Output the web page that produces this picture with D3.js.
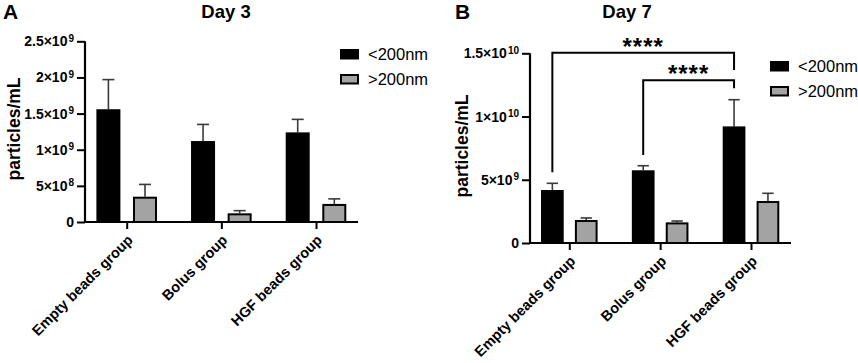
<!DOCTYPE html>
<html>
<head>
<meta charset="utf-8">
<script src="https://cdn.jsdelivr.net/npm/d3@7"></script>
<style>
  html, body { margin: 0; padding: 0; background: #fff; }
  svg { display: block; font-family: "Liberation Sans", Arial, Helvetica, sans-serif; }
</style>
</head>
<body>
<svg id="chart" width="858" height="363"></svg>
<script>
// ---------------- DATA ----------------
const groups = ["Empty beads group", "Bolus group", "HGF beads group"];
const series = ["<200nm", ">200nm"];
const seriesColors = ["#000000", "#a3a3a3"];

// Day 3 (panel A)
const day3Small    = [1.56e9, 1.12e9, 1.24e9];
const day3SmallErr = [0.41e9, 0.23e9, 0.18e9];
const day3Large    = [0.35e9, 0.12e9, 0.25e9];
const day3LargeErr = [0.17e9, 0.037e9, 0.07e9];
const day3Ticks    = [0, 5e8, 1e9, 1.5e9, 2e9, 2.5e9];

// Day 7 (panel B)
const day7Small    = [4.19e9, 5.75e9, 9.22e9];
const day7SmallErr = [0.53e9, 0.36e9, 2.11e9];
const day7Large    = [1.82e9, 1.63e9, 3.32e9];
const day7LargeErr = [0.16e9, 0.11e9, 0.61e9];
const day7Ticks    = [0, 5e9, 1e10, 1.5e10];

// Significance comparisons on Day 7 (<200nm bars)
const compFrom   = [0, 1];
const compTo     = [2, 2];
const compLabel  = ["****", "****"];
const compLineY  = [1.505e10, 1.286e10];
const compLeftY  = [5.59e9, 6.96e9];
const compRightY = [1.368e10, 1.223e10];

// ---------------- DRAW ----------------
const svg = d3.select("#chart");

function fmtTick(sel, v) {
  sel.text(null);
  if (v === 0) { sel.append("tspan").text("0"); return; }
  const e = Math.floor(Math.log10(v) + 1e-9);
  const m = +(v / Math.pow(10, e)).toFixed(2);
  sel.append("tspan").text(m + "\u00d710");
  sel.append("tspan").attr("dx", "1").attr("dy", "-0.45em").attr("font-size", "10px").text(e);
}

function drawPanel(p) {
  const g = svg.append("g");
  const x = d3.scalePoint().domain(groups).range(p.centers);
  const inner = d3.scaleBand().domain(series).range([-p.innerHalf, p.innerHalf]).paddingInner(p.innerPad);
  const y = d3.scaleLinear().domain([0, p.ticks[p.ticks.length - 1]]).range([p.y0, p.yTop]);

  const rows = [];
  groups.forEach((grp, i) => {
    rows.push({grp, s: series[0], si: 0, v: p.small[i], e: p.smallErr[i]});
    rows.push({grp, s: series[1], si: 1, v: p.large[i], e: p.largeErr[i]});
  });

  // error bars (upward only)
  const capW = inner.bandwidth() * 0.5;
  rows.forEach(r => {
    const cx = x(r.grp) + inner(r.s) + inner.bandwidth() / 2;
    g.append("line").attr("x1", cx).attr("x2", cx)
      .attr("y1", y(r.v)).attr("y2", y(r.v + r.e))
      .attr("stroke", "#3a3a3a").attr("stroke-width", 1.6);
    g.append("line").attr("x1", cx - capW / 2).attr("x2", cx + capW / 2)
      .attr("y1", y(r.v + r.e)).attr("y2", y(r.v + r.e))
      .attr("stroke", "#3a3a3a").attr("stroke-width", 1.6);
  });

  // bars
  g.selectAll("rect.bar").data(rows).join("rect").attr("class", "bar")
    .attr("x", d => x(d.grp) + inner(d.s) + 1)
    .attr("width", inner.bandwidth() - 2)
    .attr("y", d => y(d.v) + 1)
    .attr("height", d => Math.max(0, p.y0 - y(d.v) - 1))
    .attr("fill", d => seriesColors[d.si])
    .attr("stroke", "#000").attr("stroke-width", 2);

  // y axis
  const yAxis = d3.axisLeft(y).tickValues(p.ticks).tickSize(8).tickPadding(3);
  const ya = g.append("g").attr("transform", `translate(${p.xAxis0},0)`).call(yAxis);
  ya.select(".domain").attr("d", `M0,${p.y0}V${p.yTop}`).attr("stroke", "#000").attr("stroke-width", 2.2);
  ya.selectAll(".tick line").attr("stroke", "#000").attr("stroke-width", 2);
  ya.selectAll(".tick text").each(function (d) { fmtTick(d3.select(this), d); })
    .attr("font-size", "14px").attr("font-weight", "bold").attr("fill", "#000")
    .attr("font-family", "Liberation Sans, Arial, sans-serif");

  // x axis
  const xAxis = d3.axisBottom(x).tickSize(7).tickFormat("");
  const xa = g.append("g").attr("transform", `translate(0,${p.y0})`).call(xAxis);
  xa.select(".domain").attr("d", `M${p.xAxis0},0H${p.xAxis1}`).attr("stroke", "#000").attr("stroke-width", 2.2);
  xa.selectAll(".tick line").attr("stroke", "#000").attr("stroke-width", 2);
  groups.forEach(grp => {
    g.append("text")
      .attr("transform", `translate(${x(grp) + 7},${p.y0 + 19}) rotate(-45)`)
      .attr("text-anchor", "end")
      .attr("font-size", "14.5px").attr("font-weight", "bold").attr("fill", "#000")
      .text(grp);
  });

  // y label
  g.append("text")
    .attr("transform", `translate(${p.ylabX},${p.ylabY}) rotate(-90)`)
    .attr("text-anchor", "middle").attr("dominant-baseline", "central")
    .attr("font-size", "17.5px").attr("font-weight", "bold")
    .text("particles/mL");

  // title and panel letter
  g.append("text").attr("x", p.titleX).attr("y", 18).attr("text-anchor", "middle")
    .attr("font-size", "18.5px").attr("font-weight", "bold").text(p.title);
  g.append("text").attr("x", p.letterX).attr("y", 18.5)
    .attr("font-size", "21px").attr("font-weight", "bold").text(p.letter);

  // legend
  series.forEach((s, i) => {
    const ly = p.legY + i * 25;
    g.append("rect").attr("x", p.legX + 1).attr("y", ly - 4).attr("width", 17).attr("height", 8.5)
      .attr("fill", seriesColors[i]).attr("stroke", "#000").attr("stroke-width", 2);
    g.append("text").attr("x", p.legX + 28).attr("y", ly).attr("dominant-baseline", "central")
      .attr("font-size", "16.5px").text(s);
  });

  return {g, x, y, inner};
}

drawPanel({
  letter: "A", letterX: 3, title: "Day 3", titleX: 226,
  centers: [126.7, 316], innerHalf: 30.3, innerPad: 0.344,
  y0: 222, yTop: 41.3, ticks: day3Ticks, xAxis0: 85, xAxis1: 358,
  small: day3Small, smallErr: day3SmallErr, large: day3Large, largeErr: day3LargeErr,
  ylabX: 14, ylabY: 129, legX: 340, legY: 54
});

const pB = drawPanel({
  letter: "B", letterX: 455, title: "Day 7", titleX: 627,
  centers: [569.3, 751], innerHalf: 28.3, innerPad: 0.33,
  y0: 243, yTop: 53.3, ticks: day7Ticks, xAxis0: 530, xAxis1: 791,
  small: day7Small, smallErr: day7SmallErr, large: day7Large, largeErr: day7LargeErr,
  ylabX: 462, ylabY: 146, legX: 770, legY: 66
});

// significance brackets
compFrom.forEach((f, i) => {
  const t = compTo[i];
  const xL = pB.x(groups[f]) + pB.inner(series[0]) + pB.inner.bandwidth() / 2;
  const xR = pB.x(groups[t]) + pB.inner(series[0]) + pB.inner.bandwidth() / 2;
  const yL = pB.y(compLineY[i]);
  pB.g.append("path")
    .attr("d", `M${xL},${pB.y(compLeftY[i])}V${yL}H${xR}V${pB.y(compRightY[i])}`)
    .attr("fill", "none").attr("stroke", "#000").attr("stroke-width", 2);
  pB.g.append("text").attr("x", (xL + xR) / 2).attr("y", yL + 2)
    .attr("text-anchor", "middle").attr("font-size", "24px").attr("font-weight", "bold")
    .attr("letter-spacing", "1px")
    .text(compLabel[i]);
});
</script>
</body>
</html>
